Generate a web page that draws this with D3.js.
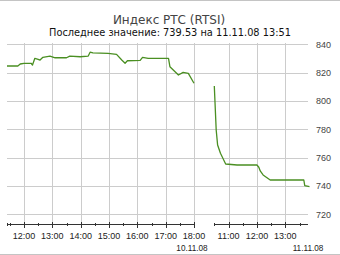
<!DOCTYPE html>
<html>
<head>
<meta charset="utf-8">
<script src="https://cdn.jsdelivr.net/npm/d3@7"></script>
<style>
  html, body { margin: 0; padding: 0; background: #fff; }
  svg { display: block; }
  .grid line { stroke: #cccccc; stroke-width: 1; shape-rendering: crispEdges; }
  .axis line { stroke: #333; stroke-width: 1; shape-rendering: crispEdges; }
  .lbl { font-family: "Liberation Sans", Arial, sans-serif; font-size: 9px; fill: #222; }
  .ylbl { font-family: "Liberation Sans", Arial, sans-serif; font-size: 9px; fill: #444; }
</style>
</head>
<body>
<svg id="chart"></svg>
<script>
const TITLE    = "Индекс РТС (RTSI)";
const SUBTITLE = "Последнее значение: 739.53 на 11.11.08 13:51";

// 10.11.08 session
const DAY1_TIMES  = ["11:24","11:47","11:52","12:00","12:15","12:18","12:23","12:30","12:34","12:40",
                     "12:55","13:06","13:30","13:37","13:59","14:16","14:20","14:26","14:58","15:16",
                     "15:27","15:34","15:39","16:06","16:11","16:23","17:06","17:09","17:27","17:37",
                     "17:48","18:00"];
const DAY1_VALUES = [824.7,824.7,826.1,826.6,826.6,825.4,830.1,829.4,828.9,830.8,
                     831.7,830.5,830.5,831.7,831.2,831.7,834.4,833.9,833.6,832.9,
                     828.9,826.6,828.4,828.7,830.8,830.1,830.1,824.2,818.3,820.2,
                     819.5,812.5];

// 11.11.08 session
const DAY2_TIMES  = ["10:30","10:34","10:37","10:43","10:54","11:18","12:00","12:04","12:07","12:13",
                     "12:28","13:39","13:41","13:51"];
const DAY2_VALUES = [810.6,779.5,768.9,763.1,755.5,754.8,754.8,753.2,750.6,747.8,
                     744.2,744.2,740.2,739.53];

const DAYS       = ["10.11.08", "11.11.08"];
const DAY_RANGES = [["11:24", "18:00"], ["10:30", "13:51"]];
const HOUR_TICKS = [["12:00","13:00","14:00","15:00","16:00","17:00","18:00"],
                    ["11:00","12:00","13:00"]];
const Y_TICKS    = [720, 740, 760, 780, 800, 820, 840];

const W = 340, H = 255;
const parse = d3.timeParse("%d.%m.%y %H:%M");
const t = (day, hm) => parse(`${DAYS[day]} ${hm}`);

const svg = d3.select("#chart").attr("width", W).attr("height", H);

const x = d3.scaleTime()
  .domain([t(0, DAY_RANGES[0][0]), t(0, DAY_RANGES[0][1]), t(1, DAY_RANGES[1][0]), t(1, DAY_RANGES[1][1])])
  .range([7, 194, 214.3, 309.5]);

const y = d3.scaleLinear().domain([720, 840]).range([214.3, 44.3]);

const AXIS_Y = 224.5;
const crisp = (v) => Math.round(v) + 0.5;

// frame lines
svg.append("line").attr("x1", 0).attr("x2", W).attr("y1", 0.5).attr("y2", 0.5)
  .attr("stroke", "#c4c4c4");
svg.append("line").attr("x1", 0).attr("x2", W).attr("y1", 254.5).attr("y2", 254.5)
  .attr("stroke", "#c4c4c4");

// titles
svg.append("text").attr("x", 169).attr("y", 23.5).attr("text-anchor", "middle")
  .attr("font-family", "DejaVu Sans, Verdana, sans-serif").attr("font-size", 12)
  .attr("fill", "#444").text(TITLE);
svg.append("text").attr("x", 170).attr("y", 36).attr("text-anchor", "middle")
  .attr("font-family", "DejaVu Sans, Verdana, sans-serif").attr("font-size", 9.8)
  .attr("fill", "#111").text(SUBTITLE);

// grid
const grid = svg.append("g").attr("class", "grid");
grid.selectAll("line.h").data(Y_TICKS).enter().append("line").attr("class", "h")
  .attr("x1", 7).attr("x2", 308)
  .attr("y1", (d) => crisp(y(d))).attr("y2", (d) => crisp(y(d)));

const hourTimes = HOUR_TICKS.flatMap((hs, i) => hs.map((h) => t(i, h)));
grid.selectAll("line.v").data(hourTimes).enter().append("line").attr("class", "v")
  .attr("x1", (d) => crisp(x(d))).attr("x2", (d) => crisp(x(d)))
  .attr("y1", 43).attr("y2", AXIS_Y);

// y labels
svg.append("g").selectAll("text").data(Y_TICKS).enter().append("text")
  .attr("class", "ylbl").attr("x", 316).attr("y", (d) => y(d) + 3.3)
  .text((d) => d);

// x axis segments with crossing ticks
const axis = svg.append("g").attr("class", "axis");
DAY_RANGES.forEach((r, i) => {
  const a = t(i, r[0]), b = t(i, r[1]);
  axis.append("line").attr("x1", x(a)).attr("x2", Math.min(x(b), 308))
    .attr("y1", AXIS_Y).attr("y2", AXIS_Y);

  const half = d3.timeMinute.every(30).range(a, b).filter((d) => d > a);
  const ticks = [a, ...half];
  if (i === 0) ticks.push(b);
  axis.selectAll(null).data(ticks).enter().append("line")
    .attr("x1", (d) => crisp(x(d))).attr("x2", (d) => crisp(x(d)))
    .attr("y1", (d) => d.getMinutes() === 0 ? AXIS_Y - 3 : AXIS_Y - 2)
    .attr("y2", (d) => d.getMinutes() === 0 ? AXIS_Y + 3 : AXIS_Y + 1.5);

  svg.append("g").selectAll("text").data(HOUR_TICKS[i]).enter().append("text")
    .attr("class", "lbl").attr("text-anchor", "middle")
    .attr("x", (h) => x(t(i, h))).attr("y", 239)
    .text((h) => h);

  svg.append("text").attr("class", "lbl").attr("text-anchor", "middle")
    .attr("font-size", 8.2)
    .attr("x", i === 0 ? 192 : 308).attr("y", 250.5)
    .style("font-size", "8.2px")
    .text(DAYS[i]);
});

// price lines
const line = d3.line().x((d) => x(d[0])).y((d) => y(d[1]));
const series = [
  DAY1_TIMES.map((h, k) => [t(0, h), DAY1_VALUES[k]]),
  DAY2_TIMES.map((h, k) => [t(1, h), DAY2_VALUES[k]])
];
svg.append("g").selectAll("path").data(series).enter().append("path")
  .attr("d", line)
  .attr("fill", "none")
  .attr("stroke", "#4a8f22")
  .attr("stroke-width", 1.3)
  .attr("stroke-linejoin", "round");
</script>
</body>
</html>
